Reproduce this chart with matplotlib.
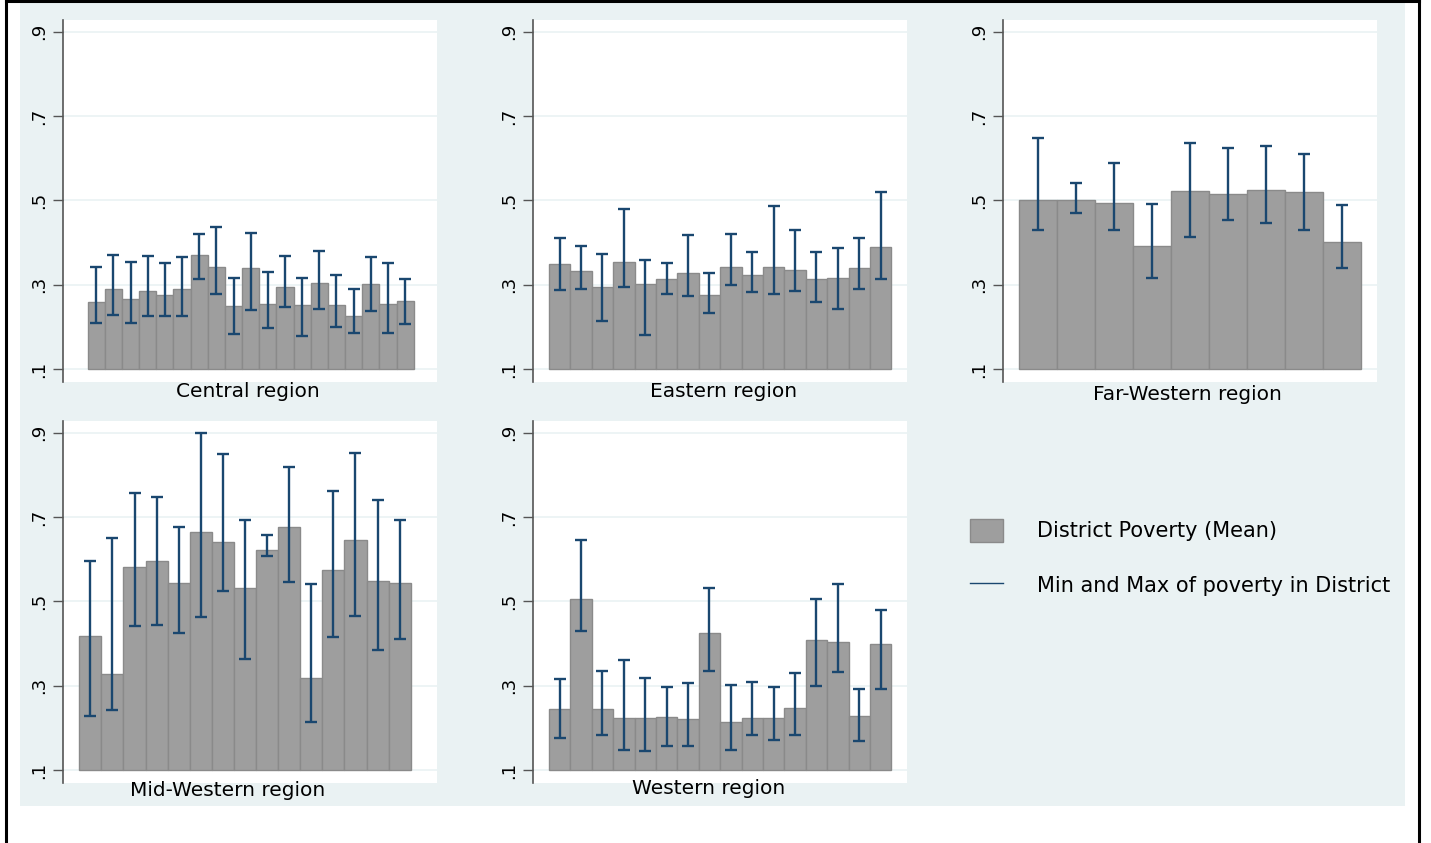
import numpy as np
import matplotlib
matplotlib.use('Agg')
import matplotlib.pyplot as plt
from matplotlib.lines import Line2D
from matplotlib.patches import Rectangle

# Pobreza por distrito: media, minimo y maximo, agrupado por region
central_mean = [0.259, 0.289, 0.267, 0.286, 0.275, 0.291, 0.370, 0.343, 0.249, 0.340,
                0.254, 0.294, 0.253, 0.303, 0.253, 0.226, 0.301, 0.254, 0.261]
central_min = [0.210, 0.228, 0.210, 0.226, 0.226, 0.226, 0.314, 0.278, 0.184, 0.240,
               0.198, 0.247, 0.179, 0.243, 0.200, 0.185, 0.237, 0.185, 0.206]
central_max = [0.341, 0.370, 0.355, 0.368, 0.351, 0.366, 0.421, 0.437, 0.317, 0.422,
               0.331, 0.367, 0.317, 0.381, 0.323, 0.290, 0.366, 0.351, 0.313]

eastern_mean = [0.349, 0.333, 0.294, 0.353, 0.302, 0.314, 0.328, 0.276, 0.341, 0.324,
                0.343, 0.334, 0.313, 0.317, 0.339, 0.390]
eastern_min = [0.287, 0.291, 0.213, 0.294, 0.180, 0.277, 0.274, 0.233, 0.300, 0.283,
               0.277, 0.285, 0.258, 0.243, 0.289, 0.314]
eastern_max = [0.411, 0.392, 0.372, 0.479, 0.358, 0.352, 0.417, 0.328, 0.421, 0.377,
               0.487, 0.430, 0.378, 0.387, 0.411, 0.520]

farwest_mean = [0.500, 0.500, 0.495, 0.391, 0.523, 0.516, 0.525, 0.519, 0.401]
farwest_min = [0.430, 0.470, 0.430, 0.317, 0.414, 0.453, 0.447, 0.429, 0.340]
farwest_max = [0.647, 0.542, 0.589, 0.491, 0.636, 0.625, 0.630, 0.610, 0.490]

midwest_mean = [0.419, 0.328, 0.582, 0.596, 0.544, 0.664, 0.640, 0.532, 0.621, 0.676,
                0.318, 0.574, 0.645, 0.549, 0.543]
midwest_min = [0.228, 0.242, 0.441, 0.444, 0.425, 0.464, 0.525, 0.364, 0.608, 0.545,
               0.213, 0.416, 0.466, 0.385, 0.411]
midwest_max = [0.596, 0.650, 0.757, 0.747, 0.676, 0.900, 0.849, 0.694, 0.657, 0.819,
               0.542, 0.763, 0.853, 0.741, 0.693]

western_mean = [0.244, 0.506, 0.246, 0.223, 0.223, 0.226, 0.221, 0.424, 0.215, 0.224,
                0.224, 0.248, 0.408, 0.403, 0.229, 0.398]
western_min = [0.175, 0.429, 0.184, 0.148, 0.145, 0.156, 0.156, 0.335, 0.147, 0.184,
               0.171, 0.182, 0.299, 0.332, 0.169, 0.293]
western_max = [0.317, 0.645, 0.336, 0.360, 0.318, 0.298, 0.306, 0.532, 0.301, 0.309,
               0.296, 0.331, 0.506, 0.542, 0.293, 0.479]

region_names = ['Central region', 'Eastern region', 'Far-Western region',
                'Mid-Western region', 'Western region']
y_ticks = [0.1, 0.3, 0.5, 0.7, 0.9]
y_ticklabels = ['.1', '.3', '.5', '.7', '.9']
legend_labels = ['District Poverty (Mean)', 'Min and Max of poverty in District']

W, H = 1431, 843
BG = '#eaf2f3'
BAR = '#9e9e9e'
NAVY = '#1a476f'
BASE = 0.1

plt.rcParams['font.family'] = ['DejaVu Sans']


def px_box(x0, y0, x1, y1):
    # caja en pixeles (origen arriba a la izquierda) -> fraccion de figura
    return [x0 / W, 1 - y1 / H, (x1 - x0) / W, (y1 - y0) / H]


def draw_panel(fig, box, mean, lo, hi, title, pad_l, pad_r, title_x, title_dy):
    ax = fig.add_axes(px_box(*box))
    n = len(mean)
    x = np.arange(n)
    mean = np.array(mean)
    lo = np.array(lo)
    hi = np.array(hi)

    width_px = box[2] - box[0]
    bar_px = (width_px - pad_l - pad_r) / n
    ax.set_xlim(-0.5 - pad_l / bar_px, n - 0.5 + pad_r / bar_px)
    ax.set_ylim(0.07, 0.928)

    for t in y_ticks:
        ax.axhline(t, color=BG, lw=1.2, zorder=0)

    bars = ax.bar(x, mean - BASE, bottom=BASE, width=1.0, color=BAR,
                  edgecolor='#8a8a8a', linewidth=1.0, zorder=2)
    ax.errorbar(x, mean, yerr=[mean - lo, hi - mean], fmt='none', ecolor=NAVY,
                elinewidth=1.7, capsize=4, capthick=1.7, zorder=3)

    ax.set_yticks(y_ticks)
    ax.set_yticklabels(y_ticklabels, rotation=90, va='center', fontsize=13)
    ax.tick_params(axis='y', length=7, width=1, color='#555555', pad=4)
    ax.set_xticks([])
    for side in ['top', 'right', 'bottom']:
        ax.spines[side].set_visible(False)
    ax.spines['left'].set_color('#555555')
    ax.spines['left'].set_linewidth(1.2)

    ax.annotate(title, xy=(title_x, 0), xycoords='axes fraction',
                xytext=(0, -title_dy), textcoords='offset pixels',
                ha='center', va='center', fontsize=14.5)
    return bars


def main():
    fig = plt.figure(figsize=(W / 100, H / 100), dpi=100)
    fig.patch.set_facecolor('white')

    # fondo y marco exterior
    fig.add_artist(Rectangle((20 / W, 1 - 806 / H), 1385 / W, 806 / H,
                             transform=fig.transFigure, facecolor=BG, edgecolor='none', zorder=0))
    frame = dict(color='black', lw=2.2, transform=fig.transFigure, zorder=1)
    fig.add_artist(Line2D([6 / W, 6 / W], [0, 1], **frame))
    fig.add_artist(Line2D([1419 / W, 1419 / W], [0, 1], **frame))
    fig.add_artist(Line2D([6 / W, 1419 / W], [1 - 1 / H, 1 - 1 / H], **frame))

    row1 = (20, 381.7)
    row2 = (421, 782.7)
    col_x = [(63.3, 437), (533.3, 907), (1003.3, 1377)]

    bars = draw_panel(fig, (col_x[0][0], row1[0], col_x[0][1], row1[1]),
                      central_mean, central_min, central_max, region_names[0],
                      24.4, 23.3, 0.493, 10)
    draw_panel(fig, (col_x[1][0], row1[0], col_x[1][1], row1[1]),
               eastern_mean, eastern_min, eastern_max, region_names[1],
               15.7, 15.7, 0.509, 10)
    draw_panel(fig, (col_x[2][0], row1[0], col_x[2][1], row1[1]),
               farwest_mean, farwest_min, farwest_max, region_names[2],
               15.7, 16, 0.494, 13)
    draw_panel(fig, (col_x[0][0], row2[0], col_x[0][1], row2[1]),
               midwest_mean, midwest_min, midwest_max, region_names[3],
               16, 26.3, 0.439, 8)
    draw_panel(fig, (col_x[1][0], row2[0], col_x[1][1], row2[1]),
               western_mean, western_min, western_max, region_names[4],
               15.7, 15.7, 0.469, 6)

    line_handle = Line2D([], [], color=NAVY, lw=1.0)
    fig.legend([bars.patches[0], line_handle], legend_labels,
               loc='upper left', bbox_to_anchor=(970 / W, 1 - 519 / H),
               frameon=False, fontsize=15, borderpad=0, borderaxespad=0,
               handlelength=1.6, handleheight=1.3, handletextpad=1.6,
               labelspacing=1.55)

    fig.savefig('out.png', dpi=100, facecolor='white')


main()
